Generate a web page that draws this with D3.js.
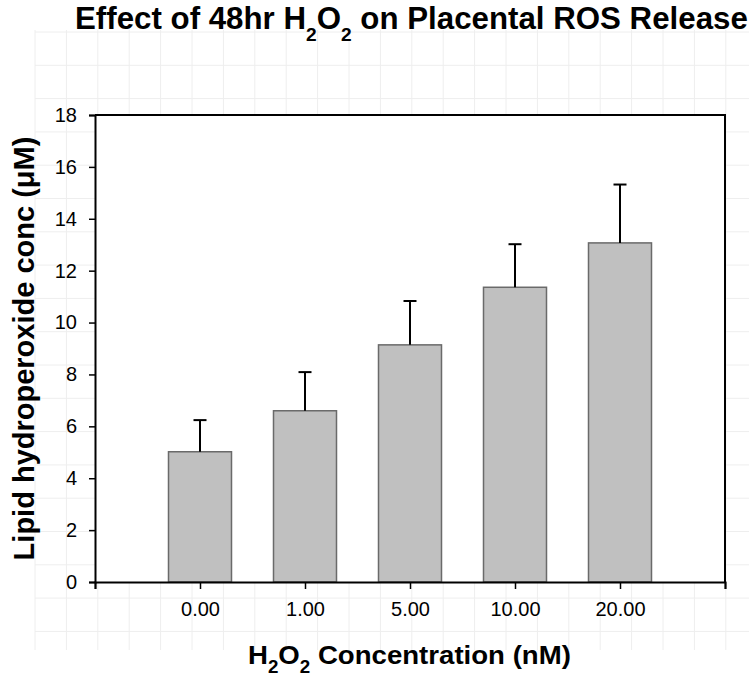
<!DOCTYPE html>
<html>
<head>
<meta charset="utf-8">
<script src="https://cdn.jsdelivr.net/npm/d3@7"></script>
<style>
  html, body { margin: 0; padding: 0; background: #ffffff; }
  svg { display: block; }
</style>
</head>
<body>
<svg id="chart" width="749" height="680"></svg>
<script>
// ---- data ----
const categories = ["0.00", "1.00", "5.00", "10.00", "20.00"];
const means = [5.02, 6.60, 9.14, 11.36, 13.07];
const errors = [1.22, 1.49, 1.69, 1.66, 2.25];
const yTicks = [0, 2, 4, 6, 8, 10, 12, 14, 16, 18];

const svg = d3.select("#chart");
const plot = { left: 95, right: 725, top: 115, bottom: 582 };
const FONT = "'Liberation Sans', Arial, Helvetica, sans-serif";

// faint background grid (spreadsheet-like)
const grid = svg.append("g").attr("stroke", "#eeeeee").attr("stroke-width", 1);
d3.range(35, 749, 31.4).forEach(gx => {
  grid.append("line").attr("x1", gx).attr("x2", gx).attr("y1", 30).attr("y2", 650);
});
d3.range(32, 650, 33.3).forEach(gy => {
  grid.append("line").attr("x1", 35).attr("x2", 749).attr("y1", gy).attr("y2", gy);
});

// plot background
svg.append("rect")
  .attr("x", plot.left).attr("y", plot.top)
  .attr("width", plot.right - plot.left).attr("height", plot.bottom - plot.top)
  .attr("fill", "#ffffff");

const x = d3.scaleLinear().domain([0, categories.length + 1]).range([plot.left, plot.right]);
const y = d3.scaleLinear().domain([0, 18]).range([plot.bottom, plot.top]);
const barW = 0.6;

// bars
svg.append("g").selectAll("rect").data(means).join("rect")
  .attr("x", (d, i) => x(i + 1 - barW / 2))
  .attr("width", x(barW) - x(0))
  .attr("y", d => y(d))
  .attr("height", d => y(0) - y(d))
  .attr("fill", "#c0c0c0")
  .attr("stroke", "#6a6a6a")
  .attr("stroke-width", 1.5);

// error bars (upper only)
const eg = svg.append("g").attr("stroke", "#000").attr("stroke-width", 2);
means.forEach((m, i) => {
  const cx = x(i + 1);
  eg.append("line").attr("x1", cx).attr("x2", cx).attr("y1", y(m)).attr("y2", y(m + errors[i]));
  eg.append("line").attr("x1", cx - 6.5).attr("x2", cx + 6.5)
    .attr("y1", y(m + errors[i])).attr("y2", y(m + errors[i]));
});

// frame top & right
svg.append("path")
  .attr("d", `M${plot.left},${plot.top}H${plot.right}V${plot.bottom}`)
  .attr("fill", "none").attr("stroke", "#000").attr("stroke-width", 2);

// y axis
const yAxis = svg.append("g")
  .attr("transform", `translate(${plot.left},0)`)
  .call(d3.axisLeft(y).tickValues(yTicks).tickSize(6).tickPadding(12).tickFormat(d3.format("d")));
yAxis.select(".domain").attr("stroke", "#000").attr("stroke-width", 2);
yAxis.selectAll(".tick line").attr("stroke", "#000").attr("stroke-width", 1.5);
yAxis.selectAll("text").attr("font-family", FONT).attr("font-size", 20).attr("fill", "#000");

// x axis
const xAxis = svg.append("g")
  .attr("transform", `translate(0,${plot.bottom})`)
  .call(d3.axisBottom(x).tickValues(d3.range(0, categories.length + 2))
    .tickSize(7).tickPadding(13).tickFormat(i => categories[i - 1] || ""));
xAxis.select(".domain").attr("stroke", "#000").attr("stroke-width", 2);
xAxis.selectAll(".tick line").attr("stroke", "#000").attr("stroke-width", 1.5);
xAxis.selectAll("text").attr("font-family", FONT).attr("font-size", 20).attr("fill", "#000");

// helper: text with subscripts, scaled horizontally to a target width
function subText(parts, x0, yBase, size, subSize, subShift, targetW) {
  const t = svg.append("text")
    .attr("font-family", FONT).attr("font-weight", "bold")
    .attr("font-size", size).attr("fill", "#000")
    .attr("x", 0).attr("y", 0);
  parts.forEach(p => {
    if (p.sub) {
      t.append("tspan").attr("font-size", subSize).attr("dy", subShift).text(p.t);
    } else {
      t.append("tspan").attr("dy", p.after ? -subShift : 0).text(p.t);
    }
  });
  const w = t.node().getBBox().width;
  t.attr("transform", `translate(${x0},${yBase}) scale(${targetW / w},1)`);
  return t;
}

// title
subText([
  { t: "Effect of 48hr H" }, { t: "2", sub: true }, { t: "O", after: true },
  { t: "2", sub: true }, { t: " on Placental ROS Release", after: true }
], 75, 29, 31, 19, 12, 673);

// x-axis title
subText([
  { t: "H" }, { t: "2", sub: true }, { t: "O", after: true },
  { t: "2", sub: true }, { t: " Concentration (nM)", after: true }
], 248, 664, 26.5, 18, 9, 323);

// y-axis title
svg.append("text")
  .attr("transform", `translate(34,${(137 + 560) / 2}) rotate(-90)`)
  .attr("text-anchor", "middle")
  .attr("font-family", FONT).attr("font-weight", "bold")
  .attr("font-size", 29).attr("fill", "#000")
  .text("Lipid hydroperoxide conc (\u03BCM)");
</script>
</body>
</html>
